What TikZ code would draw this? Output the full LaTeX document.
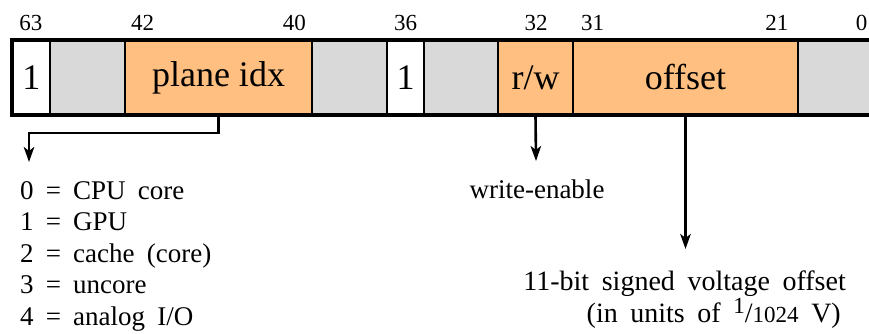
\documentclass[tikz,border=0pt]{standalone}
\usepackage{fontspec}
\setmainfont{Liberation Serif}
\usetikzlibrary{arrows.meta}

\newcommand\widespaces{\spaceskip=0.45em plus 0.1em minus 0.05em\relax}

\tikzset{
  cell/.style={draw, line width=2.4pt, minimum height=74pt, inner sep=0pt,
    font=\fontsize{36}{40}\selectfont},
  fld/.style={cell, fill=orange!50},
  rsv/.style={cell, fill=black!15},
  one/.style={cell, fill=white},
  bitno/.style={inner sep=0pt, font=\fontsize{23}{27}\selectfont},
  conn/.style={line width=2.6pt, -{Stealth[length=15pt,width=10.5pt,inset=4pt]}},
  note/.style={inner sep=0pt, font=\fontsize{27}{31.5}\selectfont\widespaces},
}

\begin{document}
\begin{tikzpicture}[x=1pt,y=-1pt]
  \useasboundingbox (0,0) rectangle (869,334);
  \clip (0,0) rectangle (869,334);

  % register fields (bit 63 down to bit 0)
  \node[one, minimum width=37.5pt] (b63) at (31.25,77.5) {1};
  \node[rsv, minimum width=75pt]   (r62) at (87.5,77.5)  {};
  \node[fld, minimum width=187pt]  (pidx) at (218.5,77.5) {plane idx};
  \node[rsv, minimum width=75pt]   (r39) at (349.5,77.5) {};
  \node[one, minimum width=37pt]   (b36) at (405.5,77.5) {1};
  \node[rsv, minimum width=74pt]   (r35) at (461,77.5)   {};
  \node[fld, minimum width=75pt]   (rw)  at (535.5,77.5) {r/w};
  \node[fld, minimum width=225pt]  (off) at (685.5,77.5) {offset};
  \node[rsv, minimum width=79pt]   (r20) at (837.5,77.5) {};
  \draw[line width=3pt] (b63.north west) rectangle (r20.south east);

  % bit numbers
  \node[bitno, anchor=base]      (n63) at (31,31)    {63};
  \node[bitno, anchor=base west] (n42) at (131,31)   {42};
  \node[bitno, anchor=base east] (n40) at (306,31)   {40};
  \node[bitno, anchor=base]      (n36) at (405.5,31) {36};
  \node[bitno, anchor=base]      (n32) at (536,31)   {32};
  \node[bitno, anchor=base west] (n31) at (581,31)   {31};
  \node[bitno, anchor=base east] (n21) at (788.5,31) {21};
  \node[bitno, anchor=base]      (n0)  at (861.5,31) {0};

  % plane index legend
  \coordinate (pturn) at (29,133);
  \coordinate (ptip)  at (29,162);
  \draw[conn] (pidx.south) |- (pturn) -- (ptip);
  \node[note, anchor=north west, align=left] (plist) at (20,181)
    {0 = CPU core\\1 = GPU\\2 = cache (core)\\3 = uncore\\4 = analog I/O};

  % read/write flag
  \coordinate (rwtip) at (536,161);
  \draw[conn] (rw.south) -- (rwtip);
  \node[note, anchor=base] (we) at (537,198) {write-enable};

  % voltage offset
  \coordinate (offtip) at (685.5,249);
  \draw[conn] (off.south) -- (offtip);
  \node[note, anchor=north east, align=right,
        font=\fontsize{28}{28.5}\selectfont\widespaces] (vo) at (846,271)
    {11-bit signed voltage offset\\(in units of
     {\fontsize{23}{23}\selectfont\raisebox{0.4em}{1}}/{\fontsize{23}{23}\selectfont 1024} V)\hspace*{5pt}};
\end{tikzpicture}
\end{document}
